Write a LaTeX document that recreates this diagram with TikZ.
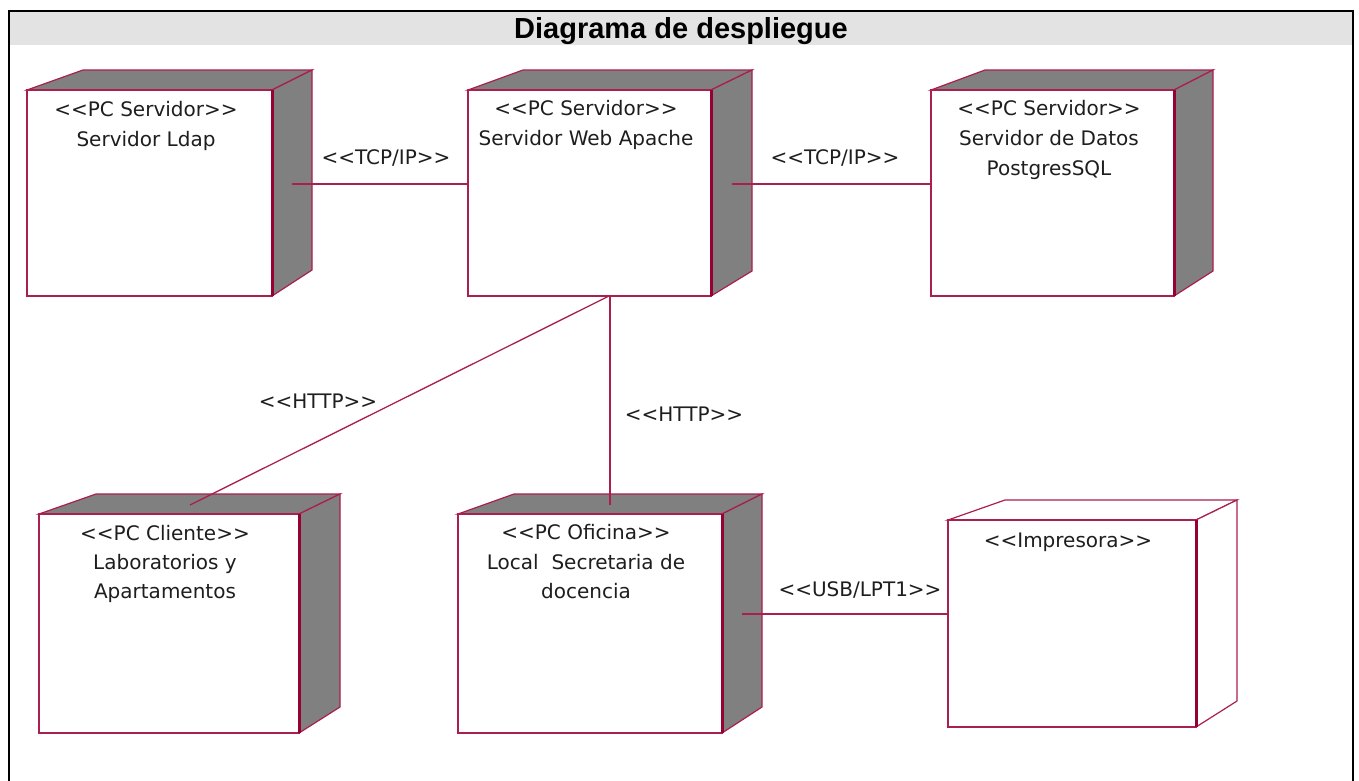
\documentclass[tikz,border=0pt]{standalone}
\usepackage{fontspec}
\setmainfont{DejaVu Sans}[Ligatures=TeXOff]
\newfontfamily\titlefont{Liberation Sans}
\usetikzlibrary{calc}
\definecolor{edge}{RGB}{170,30,80}
\definecolor{edgedark}{RGB}{150,0,50}
\definecolor{boxgray}{RGB}{128,128,128}
\definecolor{band}{RGB}{227,227,227}
\definecolor{txt}{RGB}{30,30,30}
\tikzset{
  face/.style={draw=edge, line width=1.2pt, line join=miter},
  frontface/.style={draw=edge, fill=white, line width=1.3pt, inner sep=0pt, outer sep=0pt},
  thickedge/.style={draw=edgedark, line width=3pt},
  conn/.style={draw=edge, line width=1.3pt},
  lbl/.style={font=\fontsize{20}{24}\selectfont, text=txt, inner sep=0pt, anchor=base},
  titletext/.style={font=\titlefont\bfseries\fontsize{29}{32}\selectfont, text=black, inner sep=0pt, anchor=base}
}
% #1 name, #2 x1, #3 y1, #4 x2, #5 y2, #6 back-left x, #7 back-right x, #8 back-bottom y, #9 fill
\newcommand{\depcube}[9]{%
  \filldraw[face, fill=#9] (#2,#3) -- (#6,#3-20) -- (#7,#3-20) -- (#4,#3) -- cycle;
  \filldraw[face, fill=#9] (#4,#3) -- (#7,#3-20) -- (#7,#8) -- (#4,#5) -- cycle;
  \node[frontface, minimum width={(#4-#2)*1pt}, minimum height={(#5-#3)*1pt}] (#1) at ({(#2+#4)/2},{(#3+#5)/2}) {};
  \draw[thickedge] (#1.north east) -- (#1.south east);
}
\begin{document}
\begin{tikzpicture}[x=1pt, y=-1pt]
\useasboundingbox (0,0) rectangle (1359,780);
\clip (0,0) rectangle (1359,780);
\fill[white] (0,0) rectangle (1359,780);
% title band and frame
\fill[band] (10,12) rectangle (1352,45);
\draw[line width=2.5pt, black] (9,800) -- (9,11) -- (1353,11) -- (1353,800);
\node[titletext] (title) at (681,38) {Diagrama de despliegue};

% nodes
\depcube{ldap}{27}{90}{272}{296}{83}{312}{270}{boxgray}
\depcube{apache}{468}{90}{711}{296}{523}{752}{271}{boxgray}
\depcube{pg}{931}{90}{1174}{296}{985}{1213}{271}{boxgray}
\depcube{lab}{39}{514}{299}{733}{96}{340}{707}{boxgray}
\depcube{ofi}{458}{514}{722}{733}{514}{762}{707}{boxgray}
\depcube{imp}{948}{520}{1196}{727}{1005}{1237}{701}{white}

% node texts
\node[lbl] (ldap-s) at (146,116) {<<PC Servidor>>};
\node[lbl] (ldap-n) at (146,146) {Servidor Ldap};
\node[lbl] (apache-s) at (586,115) {<<PC Servidor>>};
\node[lbl] (apache-n) at (586,145) {Servidor Web Apache};
\node[lbl] (pg-s) at (1049,115) {<<PC Servidor>>};
\node[lbl] (pg-n1) at (1049,145) {Servidor de Datos};
\node[lbl] (pg-n2) at (1049,175) {PostgresSQL};
\node[lbl] (lab-s) at (165,540) {<<PC Cliente>>};
\node[lbl] (lab-n1) at (165,569) {Laboratorios y};
\node[lbl] (lab-n2) at (165,598) {Apartamentos};
\node[lbl] (ofi-s) at (586,539) {<<PC Oficina>>};
\node[lbl] (ofi-n1) at (586,569) {Local\ \ Secretaria de};
\node[lbl] (ofi-n2) at (586,598) {docencia};
\node[lbl] (imp-s) at (1068,547) {<<Impresora>>};

% connector end points inside the side / top faces
\coordinate (ldap-r) at (292,184);
\coordinate (apache-r) at (732,184);
\coordinate (apache-b1) at (609,296);
\coordinate (apache-b2) at (610,296);
\coordinate (lab-t) at (190,505);
\coordinate (ofi-t) at (610,505);
\coordinate (ofi-r) at (742,614);

% connectors
\draw[conn] (ldap-r) -- (apache.west |- ldap-r);
\draw[conn] (apache-r) -- (pg.west |- apache-r);
\draw[conn] (apache-b1) -- (lab-t);
\draw[conn] (apache-b2) -- (ofi-t);
\draw[conn] (ofi-r) -- (imp.west |- ofi-r);

% connector labels
\node[lbl] (l-tcp1) at (386,164) {<<TCP/IP>>};
\node[lbl] (l-tcp2) at (835,164) {<<TCP/IP>>};
\node[lbl] (l-http1) at (318,408) {<<HTTP>>};
\node[lbl] (l-http2) at (684,421) {<<HTTP>>};
\node[lbl] (l-usb) at (860,596) {<<USB/LPT1>>};
\end{tikzpicture}
\end{document}
